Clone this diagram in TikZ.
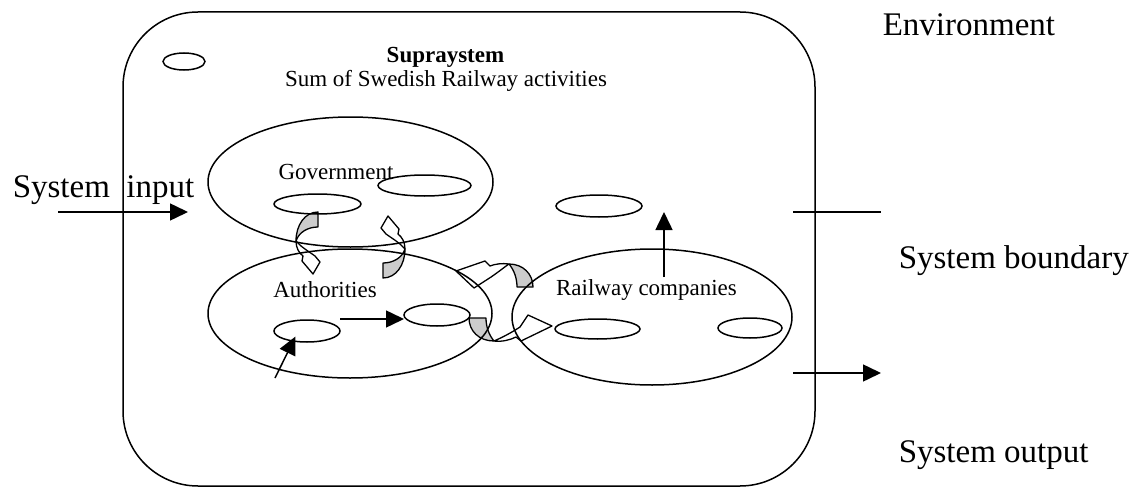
\documentclass[tikz,border=0pt]{standalone}
\usepackage{fontspec}
\setmainfont{Liberation Serif}
\usetikzlibrary{shapes.geometric,arrows.meta}
\begin{document}
\begin{tikzpicture}[x=1pt,y=-1pt,
  line width=1.5pt,
  oval/.style={draw, ellipse, inner sep=0pt, outer sep=0pt},
  small/.style={font=\fontsize{23}{27}\selectfont, inner sep=0pt, anchor=base},
  large/.style={font=\fontsize{33}{38}\selectfont, inner sep=0pt, anchor=base west},
  flow/.style={-{Triangle[length=18pt,width=17pt]}},
  back/.style={fill=black!20, draw=black, line width=1.3pt, line join=round},
  front/.style={fill=white, draw=black, line width=1.3pt, line join=round},
]
\useasboundingbox (0,0) rectangle (1141,487);

% system boundary
\draw[rounded corners=75pt] (123,12) rectangle (815,486);

% headings and labels
\node[small] (supra) at (445.5,63) {\textbf{Supraystem}};
\node[small] (sum) at (446,86) {Sum of Swedish Railway activities};
\node[small] (govt) at (336,179) {Government};
\node[small] (auth) at (325,297) {Authorities};
\node[small] (rail) at (646.5,295) {Railway companies};
\node[large] (env) at (882,36) {Environment};
\node[large] (input) at (12,197) {System\ \ input};
\node[large] (bound) at (898,268) {System boundary};
\node[large] (output) at (898,462) {System output};

% curved block arrows between the actors
% Government -> Authorities
\path[back] (318,212) .. controls (305,212) and (296,225) .. (296,241)
  .. controls (299,232) and (308,227) .. (318,227) -- cycle;
\path[front] (296,241) .. controls (296,248) and (299,253) .. (303,256)
  -- (302,261) -- (313,274) -- (320,262) -- (315,256)
  .. controls (308,251) and (301,247) .. (296,241) -- cycle;
% Authorities -> Government
\begin{scope}[rotate around={180:(350.5,245)}]
\path[back] (318,212) .. controls (305,212) and (296,225) .. (296,241)
  .. controls (299,232) and (308,227) .. (318,227) -- cycle;
\path[front] (296,241) .. controls (296,248) and (299,253) .. (303,256)
  -- (302,261) -- (313,274) -- (320,262) -- (315,256)
  .. controls (308,251) and (301,247) .. (296,241) -- cycle;
\end{scope}
% Railway companies -> Authorities
\path[back] (533,287) .. controls (533,274) and (523,264) .. (509,264)
  .. controls (514,270) and (517,278) .. (517,287) -- cycle;
\path[front] (509,264) .. controls (502,263) and (495,264) .. (490,266)
  -- (485,261) -- (456,271) -- (474,288) -- (488,279)
  .. controls (496,274) and (503,268) .. (509,264) -- cycle;
% Authorities -> Railway companies
\path[back] (469,318) .. controls (469,331) and (479,341) .. (494,341)
  .. controls (489,335) and (486,327) .. (486,318) -- cycle;
\path[front] (494,341) .. controls (502,342) and (510,340) .. (516,337)
  -- (521,341) -- (552,326) -- (528,315) -- (520,327)
  .. controls (511,333) and (501,338) .. (494,341) -- cycle;

% actors and their units
\node[oval, minimum width=42pt, minimum height=17pt] (spare) at (184,61.5) {};
\node[oval, minimum width=285pt, minimum height=130pt] (gov) at (350.5,182) {};
\node[oval, minimum width=284pt, minimum height=129pt] (authE) at (350,313.5) {};
\node[oval, minimum width=280pt, minimum height=136pt] (railE) at (652,317) {};
\node[oval, minimum width=93pt, minimum height=21pt] (g1) at (424.5,185.5) {};
\node[oval, minimum width=87pt, minimum height=20pt] (g2) at (317.5,204) {};
\node[oval, minimum width=86pt, minimum height=22pt] (free) at (599,206) {};
\node[oval, minimum width=66pt, minimum height=22pt] (a1) at (307,331) {};
\node[oval, minimum width=66pt, minimum height=22pt] (a2) at (437,315) {};
\node[oval, minimum width=85pt, minimum height=20pt] (r1) at (597.5,329) {};
\node[oval, minimum width=64pt, minimum height=20pt] (r2) at (750,328) {};

% flows
\coordinate (inS) at (58,212);
\coordinate (inE) at (188,212);
\coordinate (bL) at (793,212);
\coordinate (bR) at (881,212);
\coordinate (oL) at (793,373);
\coordinate (oR) at (881,373);
\coordinate (upS) at (664,277);
\coordinate (upE) at (664,212);
\coordinate (aS) at (340,319);
\coordinate (aE) at (404,319);
\coordinate (dS) at (275,378);
\coordinate (dE) at (295.5,336.5);

\draw[flow] (inS) -- (inE);
\draw (bL) -- (bR);
\draw[flow] (oL) -- (oR);
\draw[flow] (upS) -- (upE);
\draw[flow] (aS) -- (aE);
\draw[flow] (dS) -- (dE);
\end{tikzpicture}
\end{document}
